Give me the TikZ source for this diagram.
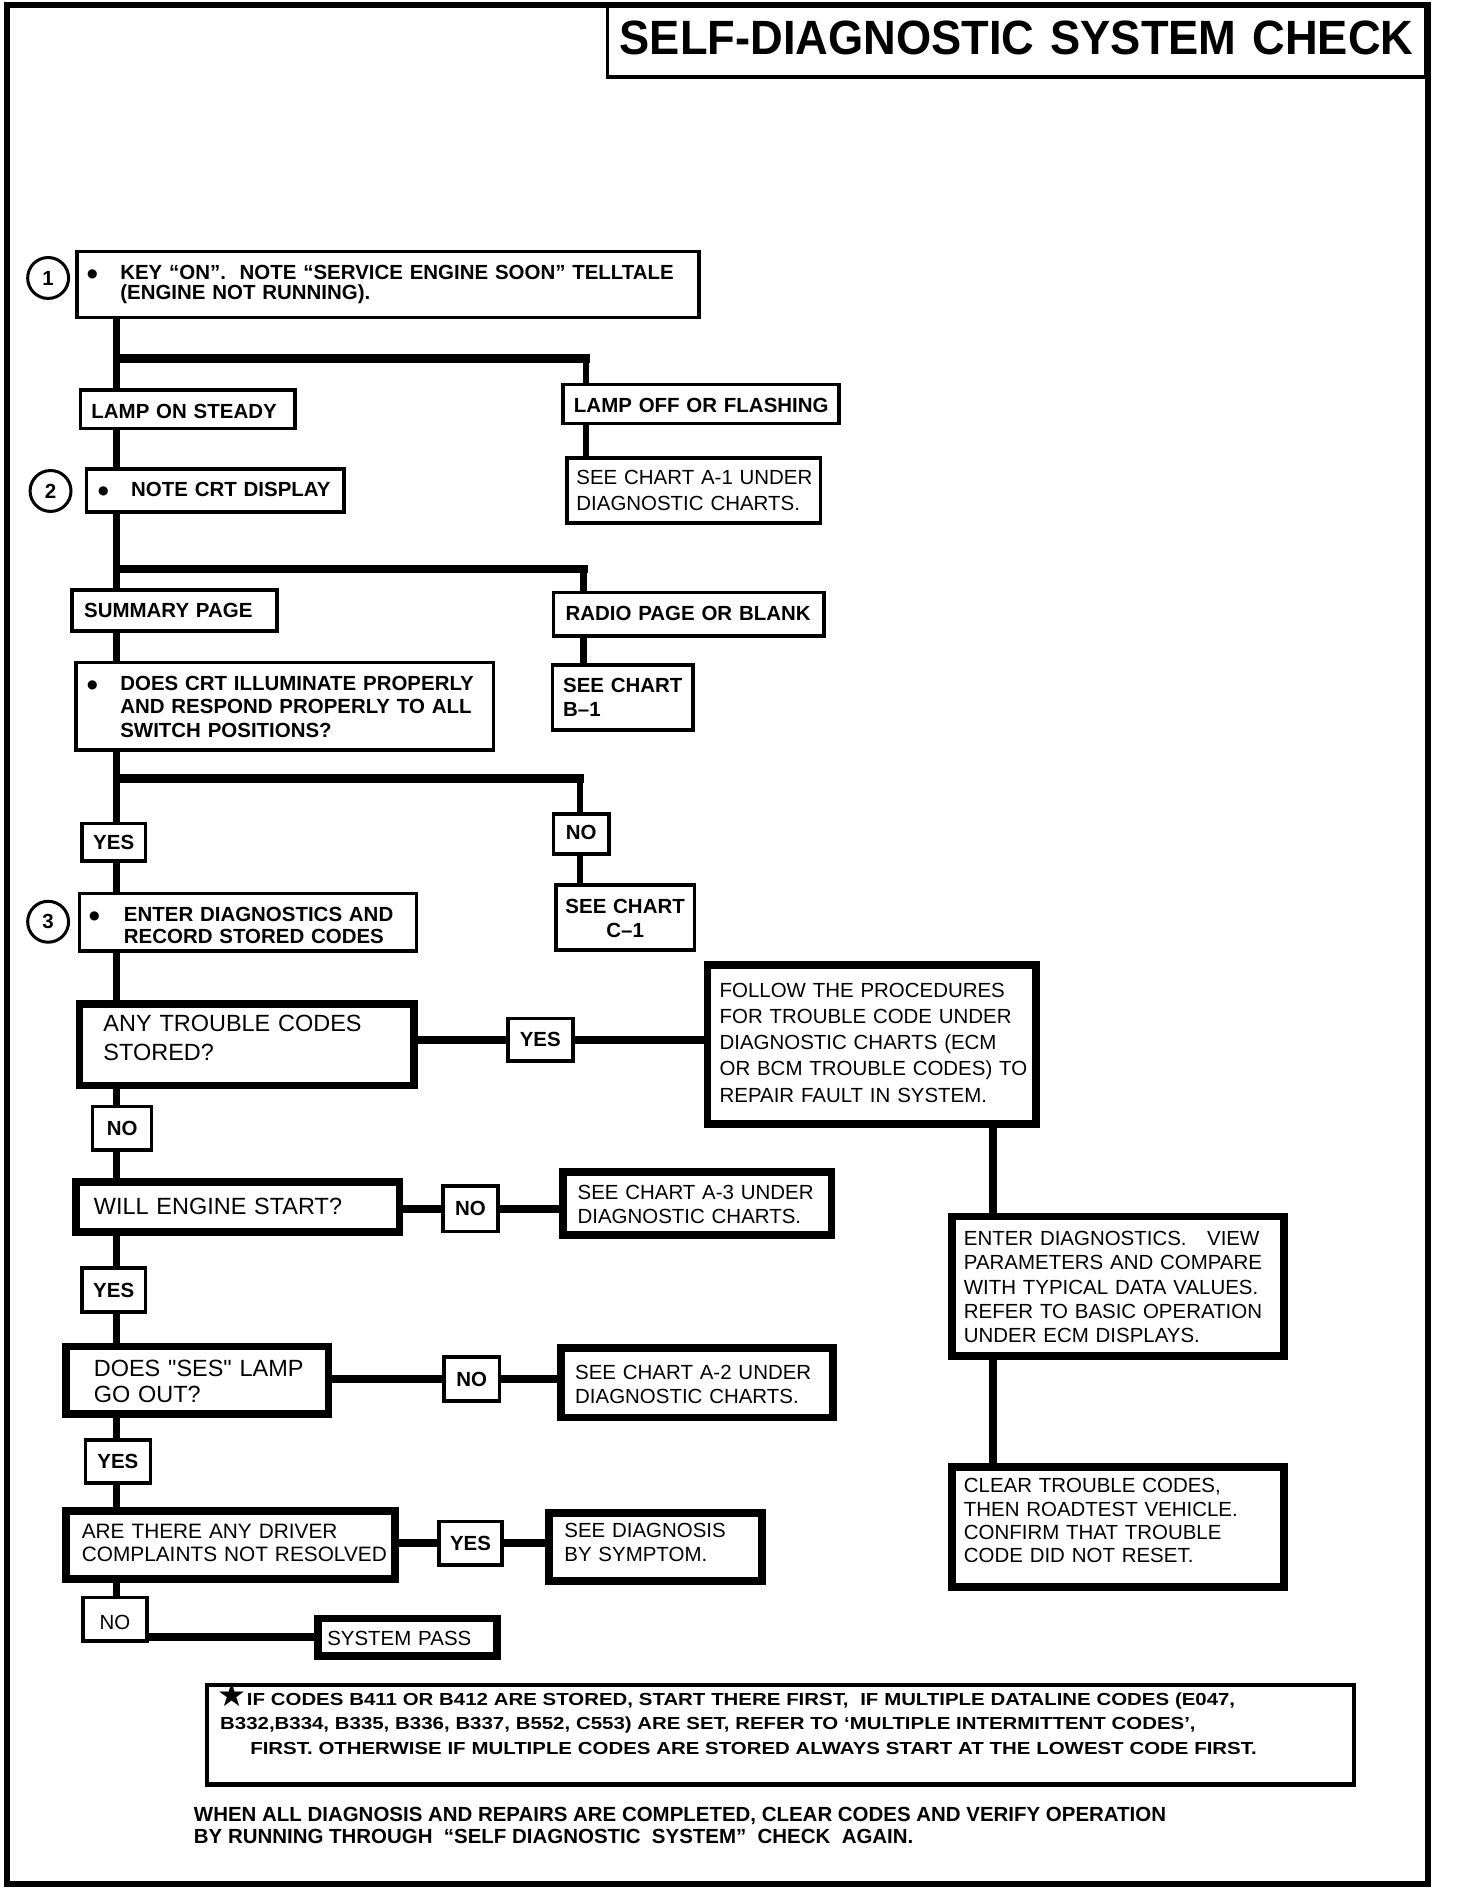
\documentclass[tikz,border=0pt]{standalone}
\usepackage{fontspec}
\setmainfont{Liberation Sans}[Ligatures=TeXOff]
\newfontfamily\fNote[FakeStretch=1.17]{Liberation Sans}
\newfontfamily\fTitle[FakeStretch=0.94]{Liberation Sans}
\newfontfamily\fSym{DejaVu Sans}
\newcommand\Ln[1]{\hbox{#1}}
\newcommand\bul[1]{\makebox[#1pt][l]{\fSym\fontsize{10}{10}\selectfont\raisebox{1.5pt}{●}}}
% #1 style, #2 name, #3 x1, #4 y1, #5 x2, #6 y2, #7 xsep, #8 first baseline, #9 text
\newcommand\mkbox[9][]{%
  \pgfmathsetmacro\mkW{#5-#3}%
  \pgfmathsetmacro\mkH{#6-#4}%
  \pgfmathsetmacro\mkT{#5-#3-2*#7}%
  \pgfmathsetmacro\mkTH{max(2*(#8-(#4+#6)/2),0)}%
  \pgfmathsetmacro\mkTD{max(2*((#4+#6)/2-#8),0)}%
  \node[#1, anchor=north west, outer sep=0pt, minimum width=\mkW pt, minimum height=\mkH pt,
        inner xsep=#7pt, inner ysep=0pt, text width=\mkT pt, text height=\mkTH pt, text depth=\mkTD pt]
        (#2) at (#3,#4) {\vtop{#9}};}
\newcommand\mklab[9][]{%
  \pgfmathsetmacro\mkW{#5-#3}%
  \pgfmathsetmacro\mkH{#6-#4}%
  \pgfmathsetmacro\mkT{#5-#3-2*#7}%
  \pgfmathsetmacro\mkTH{max(2*(#8-(#4+#6)/2),0)}%
  \pgfmathsetmacro\mkTD{max(2*((#4+#6)/2-#8),0)}%
  \node[#1, anchor=north west, outer sep=0pt, minimum width=\mkW pt, minimum height=\mkH pt, align=center,
        inner xsep=#7pt, inner ysep=0pt, text width=\mkT pt, text height=\mkTH pt, text depth=\mkTD pt]
        (#2) at (#3,#4) {#9};}
\begin{document}
\begin{tikzpicture}[x=1pt,y=-1pt,
  title/.style={draw, line width=3pt, font=\fTitle\bfseries\fontsize{40}{42}\selectfont},
  ub/.style={draw, line width=3pt, font=\bfseries\fontsize{17}{18.5}\selectfont},
  ur/.style={draw, line width=3pt, font=\fontsize{17}{21.5}\selectfont},
  lb/.style={draw, line width=6.5pt, font=\fontsize{17}{20}\selectfont},
  lab/.style={draw, line width=3pt, font=\bfseries\fontsize{17}{18}\selectfont},
  note/.style={draw, line width=3.5pt, font=\fNote\bfseries\fontsize{14.5}{20.5}\selectfont},
  circ/.style={circle, draw, line width=2.5pt, minimum size=34pt, inner sep=0pt, font=\bfseries\fontsize{17}{17}\selectfont},
  trunk/.style={line width=5.5pt},
  branch/.style={line width=7pt, line cap=rect},
  lconn/.style={line width=6.5pt},
  rconn/.style={line width=7pt}]
\useasboundingbox (0,0) rectangle (1210,1572.3);
% outer frame
\draw[line width=5pt] (6,4) rectangle (1187,1566);
\mkbox[title]{title}{505}{4}{1185}{64}{10}{45}{\Ln{SELF-DIAGNOSTIC SYSTEM CHECK}}

% circled step numbers
\node[circ] (c1) at (40,231) {1};
\node[circ] (c2) at (42,408) {2};
\node[circ] (c3) at (40,766) {3};

% upper part
\mkbox[ub, font=\bfseries\fontsize{17}{16.5}\selectfont]{b1}{64}{209}{581}{264}{8.5}{232.5}{\Ln{\bul{27.5}KEY “ON”.~ NOTE “SERVICE ENGINE SOON” TELLTALE}\Ln{\hspace*{27.5pt}(ENGINE NOT RUNNING).}}
\mkbox[ub]{lon}{67}{324}{245}{356}{9}{348}{\Ln{LAMP ON STEADY}}
\mkbox[ub]{loff}{468}{319.5}{697}{352}{9}{343}{\Ln{LAMP OFF OR FLASHING}}
\mkbox[ur]{a1}{471}{380.5}{682}{434.5}{8}{403}{\Ln{SEE CHART A-1 UNDER}\Ln{DIAGNOSTIC CHARTS.}}
\mkbox[ub]{b2}{72}{389.5}{286}{425.5}{9.6}{412.5}{\Ln{\bul{27.4}NOTE CRT DISPLAY}}
\mkbox[ub]{sum}{60}{490.5}{230}{524.5}{10}{513.5}{\Ln{SUMMARY PAGE}}
\mkbox[ub]{radio}{460}{492.5}{685}{528.5}{10}{516}{\Ln{RADIO PAGE OR BLANK}}
\mkbox[ub, font=\bfseries\fontsize{17}{20}\selectfont]{bb1}{459}{552.5}{576}{606.5}{9}{575.5}{\Ln{SEE CHART}\Ln{B–1}}
\mkbox[ub, font=\bfseries\fontsize{17}{19.3}\selectfont]{crt}{63}{550.5}{410}{623.5}{9.5}{574}{\Ln{\bul{27.5}DOES CRT ILLUMINATE PROPERLY}\Ln{\hspace*{27.5pt}AND RESPOND PROPERLY TO ALL}\Ln{\hspace*{27.5pt}SWITCH POSITIONS?}}
\mklab[lab]{yes1}{68}{684.5}{121}{715.5}{0}{705.8}{YES}
\mklab[lab]{no1}{460}{676.5}{506}{709.5}{0}{697.7}{NO}
\mklab[lab, font=\bfseries\fontsize{17}{20}\selectfont]{cc1}{462}{735.5}{577}{789.5}{0}{759}{SEE CHART\\C–1}
\mkbox[ub, font=\bfseries\fontsize{17}{18}\selectfont]{b3}{66}{742.5}{346}{790.5}{8}{766}{\Ln{\bul{29}ENTER DIAGNOSTICS AND}\Ln{\hspace*{29pt}RECORD STORED CODES}}

% lower part
\mkbox[lb, font=\fontsize{19.5}{24}\selectfont]{any}{66}{834}{344}{902}{20}{857.5}{\Ln{ANY TROUBLE CODES}\Ln{STORED?}}
\mklab[lab]{yesA}{422}{846.5}{476}{881.5}{0}{870}{YES}
\mkbox[lb, font=\fontsize{17}{21.7}\selectfont]{follow}{588}{802}{861}{934}{10}{829}{\Ln{FOLLOW THE PROCEDURES}\Ln{FOR TROUBLE CODE UNDER}\Ln{DIAGNOSTIC CHARTS (ECM}\Ln{OR BCM TROUBLE CODES) TO}\Ln{REPAIR FAULT IN SYSTEM.}}
\mklab[lab]{noA}{77}{919.5}{126}{955.5}{0}{943.5}{NO}
\mkbox[lb, font=\fontsize{19.5}{22}\selectfont]{will}{63}{982}{332}{1024}{15}{1009}{\Ln{WILL ENGINE START?}}
\mklab[lab]{noB}{368}{985.5}{414}{1023.5}{0}{1010.5}{NO}
\mkbox[lb]{a3}{468}{974}{691}{1026}{12}{996.6}{\Ln{SEE CHART A-3 UNDER}\Ln{DIAGNOSTIC CHARTS.}}
\mkbox[lb, font=\fontsize{17}{20.2}\selectfont]{enter}{791}{1011}{1067}{1127}{10}{1035}{\Ln{ENTER DIAGNOSTICS.~~ VIEW}\Ln{PARAMETERS AND COMPARE}\Ln{WITH TYPICAL DATA VALUES.}\Ln{REFER TO BASIC OPERATION}\Ln{UNDER ECM DISPLAYS.}}
\mklab[lab]{yes2}{68}{1053.5}{121}{1090.5}{0}{1078}{YES}
\mkbox[lb, font=\fontsize{19.5}{22.3}\selectfont]{ses}{55}{1119}{273}{1175}{23}{1143.5}{\Ln{DOES "SES" LAMP}\Ln{GO OUT?}}
\mklab[lab]{noC}{369}{1127.5}{415}{1164.5}{0}{1152}{NO}
\mkbox[lb, font=\fontsize{17}{19.7}\selectfont]{a2}{466}{1120}{692}{1178}{12}{1146.6}{\Ln{SEE CHART A-2 UNDER}\Ln{DIAGNOSTIC CHARTS.}}
\mklab[lab]{yes3}{71}{1196.5}{125}{1232.5}{0}{1220.5}{YES}
\mkbox[lb, font=\fontsize{17}{19.4}\selectfont]{clear}{791}{1219}{1067}{1319}{10}{1240.5}{\Ln{CLEAR TROUBLE CODES,}\Ln{THEN ROADTEST VEHICLE.}\Ln{CONFIRM THAT TROUBLE}\Ln{CODE DID NOT RESET.}}
\mkbox[lb, font=\fontsize{17.3}{19.4}\selectfont]{are}{55}{1256}{328}{1312}{13}{1278.4}{\Ln{ARE THERE ANY DRIVER}\Ln{COMPLAINTS NOT RESOLVED}}
\mklab[lab]{yesD}{365}{1264.5}{417}{1300.5}{0}{1288.5}{YES}
\mkbox[lb]{diag}{456}{1257}{633}{1314}{13}{1278}{\Ln{SEE DIAGNOSIS}\Ln{BY SYMPTOM.}}
\mklab[lab, font=\fontsize{17}{18}\selectfont]{no4}{69}{1327.5}{122}{1363.5}{0}{1354}{NO}
\mkbox[lb]{pass}{264}{1345}{413}{1376}{8}{1367.7}{\Ln{SYSTEM PASS}}

% note
\mkbox[note]{note}{172}{1400}{1125}{1483}{9}{1417}{\Ln{{\fSym\fontsize{27}{22}\selectfont\raisebox{-1pt}{★}}IF CODES B411 OR B412 ARE STORED, START THERE FIRST,~ IF MULTIPLE DATALINE CODES (E047,}\Ln{\hspace*{2pt}B332,B334, B335, B336, B337, B552, C553) ARE SET, REFER TO ‘MULTIPLE INTERMITTENT CODES’,}\Ln{\hspace*{27pt}FIRST. OTHERWISE IF MULTIPLE CODES ARE STORED ALWAYS START AT THE LOWEST CODE FIRST.}}
\node[anchor=base west, inner sep=0pt, font=\bfseries\fontsize{17}{18}\selectfont] (fin) at (161,1514)
  {\vtop{\Ln{WHEN ALL DIAGNOSIS AND REPAIRS ARE COMPLETED, CLEAR CODES AND VERIFY OPERATION}\Ln{BY RUNNING THROUGH~ “SELF DIAGNOSTIC~ SYSTEM”~ CHECK~ AGAIN.}}};

% connectors
\coordinate (tx) at (97,0);
\coordinate (j1) at (97,298);  \coordinate (k1) at (487,298);
\coordinate (j2) at (97,473);  \coordinate (k2) at (485,473);
\coordinate (j3) at (97,647);  \coordinate (k3) at (482,647);
\coordinate (rx) at (825,0);

\draw[trunk] (b1.south -| tx) -- (lon.north -| tx);
\draw[branch] (j1) -- (k1);
\draw[trunk] (k1) -- (k1 |- loff.north);
\draw[trunk] (k1 |- loff.south) -- (k1 |- a1.north);
\draw[trunk] (lon.south -| tx) -- (b2.north -| tx);
\draw[trunk] (b2.south -| tx) -- (sum.north -| tx);
\draw[branch] (j2) -- (k2);
\draw[trunk] (k2) -- (k2 |- radio.north);
\draw[trunk] (k2 |- radio.south) -- (k2 |- bb1.north);
\draw[trunk] (sum.south -| tx) -- (crt.north -| tx);
\draw[trunk] (crt.south -| tx) -- (yes1.north -| tx);
\draw[branch] (j3) -- (k3);
\draw[trunk] (k3) -- (k3 |- no1.north);
\draw[trunk] (k3 |- no1.south) -- (k3 |- cc1.north);
\draw[trunk] (yes1.south -| tx) -- (b3.north -| tx);
\draw[trunk] (b3.south -| tx) -- (any.north -| tx);
\draw[trunk] (any.south -| tx) -- (noA.north -| tx);
\draw[trunk] (noA.south -| tx) -- (will.north -| tx);
\draw[trunk] (will.south -| tx) -- (yes2.north -| tx);
\draw[trunk] (yes2.south -| tx) -- (ses.north -| tx);
\draw[trunk] (ses.south -| tx) -- (yes3.north -| tx);
\draw[trunk] (yes3.south -| tx) -- (are.north -| tx);
\draw[trunk] (are.south -| tx) -- (no4.north -| tx);

\draw[lconn] (any.east |- yesA.west) -- (yesA.west);
\draw[lconn] (yesA.east) -- (follow.west |- yesA.east);
\draw[rconn] (follow.south -| rx) -- (enter.north -| rx);
\draw[rconn] (enter.south -| rx) -- (clear.north -| rx);
\draw[lconn] (will.east |- noB.west) -- (noB.west);
\draw[lconn] (noB.east) -- (a3.west |- noB.east);
\draw[lconn] (ses.east |- noC.west) -- (noC.west);
\draw[lconn] (noC.east) -- (a2.west |- noC.east);
\draw[lconn] (are.east |- yesD.west) -- (yesD.west);
\draw[lconn] (yesD.east) -- (diag.west |- yesD.east);
\draw[lconn, line width=7pt] (no4.east |- pass.west) -- (pass.west);
\end{tikzpicture}
\end{document}
